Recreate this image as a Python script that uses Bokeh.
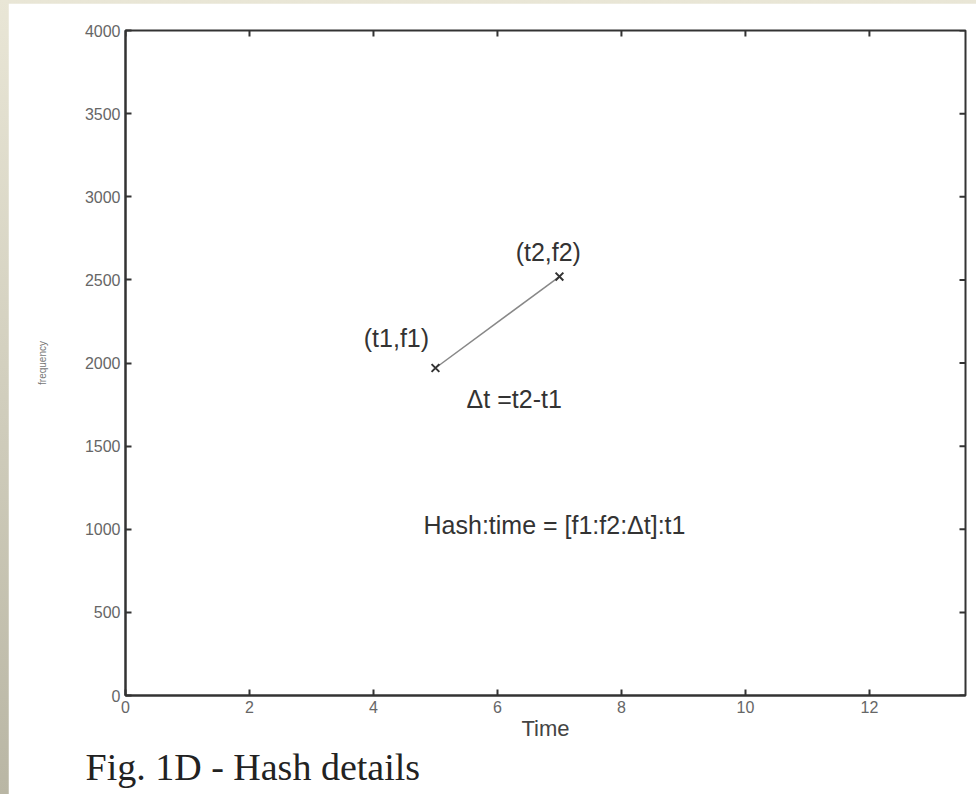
import math
from bokeh.plotting import figure
from bokeh.layouts import column
from bokeh.models import Title, ColumnDataSource, Range1d
from bokeh.core.properties import value
from bokeh.embed import file_html
from bokeh.resources import INLINE

# ---- data ----
point_labels = ["(t1,f1)", "(t2,f2)"]
times = [5, 7]            # t1, t2
freqs = [1970, 2520]      # f1, f2
x_ticks = [0, 2, 4, 6, 8, 10, 12]
y_ticks = [0, 500, 1000, 1500, 2000, 2500, 3000, 3500, 4000]
x_max = 13.55
y_max = 4000

note_texts = ["(t1,f1)", "(t2,f2)", "\u0394t =t2-t1", "Hash:time = [f1:f2:\u0394t]:t1"]
note_x = [4.37, 6.82, 6.27, 6.92]
note_y = [2150, 2665, 1786, 1023]

p = figure(width=968, height=791, output_backend="svg", toolbar_location=None,
           x_range=Range1d(0, x_max), y_range=Range1d(0, y_max),
           min_border_left=117, min_border_right=11, min_border_top=27, min_border_bottom=99,
           background_fill_color="white", border_fill_color="white")
p.margin = (3, 0, 0, 8)
p.grid.visible = False
p.outline_line_color = "#333333"
p.outline_line_width = 2

tick_color = "#666666"
for ax in (p.xaxis[0], p.yaxis[0]):
    ax.axis_line_color = "#333333"
    ax.axis_line_width = 2
    ax.major_tick_in = 6
    ax.major_tick_out = 0
    ax.major_tick_line_color = "#333333"
    ax.major_tick_line_width = 2
    ax.minor_tick_line_color = None
    ax.major_label_text_font = "Liberation Sans"
    ax.major_label_text_font_size = "16px"
    ax.major_label_text_color = tick_color
    ax.major_label_standoff = 5

p.xaxis[0].ticker = x_ticks
p.yaxis[0].ticker = y_ticks
p.xaxis[0].axis_label = "Time"
p.xaxis[0].axis_label_text_font = "Liberation Sans"
p.xaxis[0].axis_label_text_font_style = "normal"
p.xaxis[0].axis_label_text_font_size = "22px"
p.xaxis[0].axis_label_text_color = "#444444"
p.xaxis[0].axis_label_standoff = 0

p.yaxis[0].axis_label = "frequency"
p.yaxis[0].axis_label_text_font = "Liberation Sans"
p.yaxis[0].axis_label_text_font_style = "normal"
p.yaxis[0].axis_label_text_font_size = "10px"
p.yaxis[0].axis_label_text_color = "#777777"
p.yaxis[0].axis_label_standoff = 34

# mirrored inward ticks on top and right edges (half of each dash is clipped by the frame)
p.scatter(x_ticks, [y_max] * len(x_ticks), marker="dash", size=12, angle=math.pi / 2,
          line_color="#333333", line_width=2)
p.scatter([x_max] * len(y_ticks), y_ticks, marker="dash", size=12,
          line_color="#333333", line_width=2)

# line between the two points
p.line(times, freqs, line_color="#888888", line_width=1.5)
p.scatter(times, freqs, marker="x", size=11, line_color="#333333", line_width=2)

src = ColumnDataSource(dict(x=note_x, y=note_y, t=note_texts))
p.text(x="x", y="y", text="t", source=src, text_font=value("Liberation Sans"),
       text_font_size="25px", text_color="#333333", text_align="center", text_baseline="middle")

title = Title(text="Fig. 1D - Hash details", align="left", offset=-40,
              text_font="Liberation Serif", text_font_size="38px", text_font_style="normal",
              text_color="#222222", standoff=0)
p.add_layout(title, "below")

layout = column(p, width=976, height=794,
                styles={"background": "linear-gradient(to bottom, #e9e6d6, #b9b6a4)"})
open("out.html", "w").write(file_html(layout, INLINE))
